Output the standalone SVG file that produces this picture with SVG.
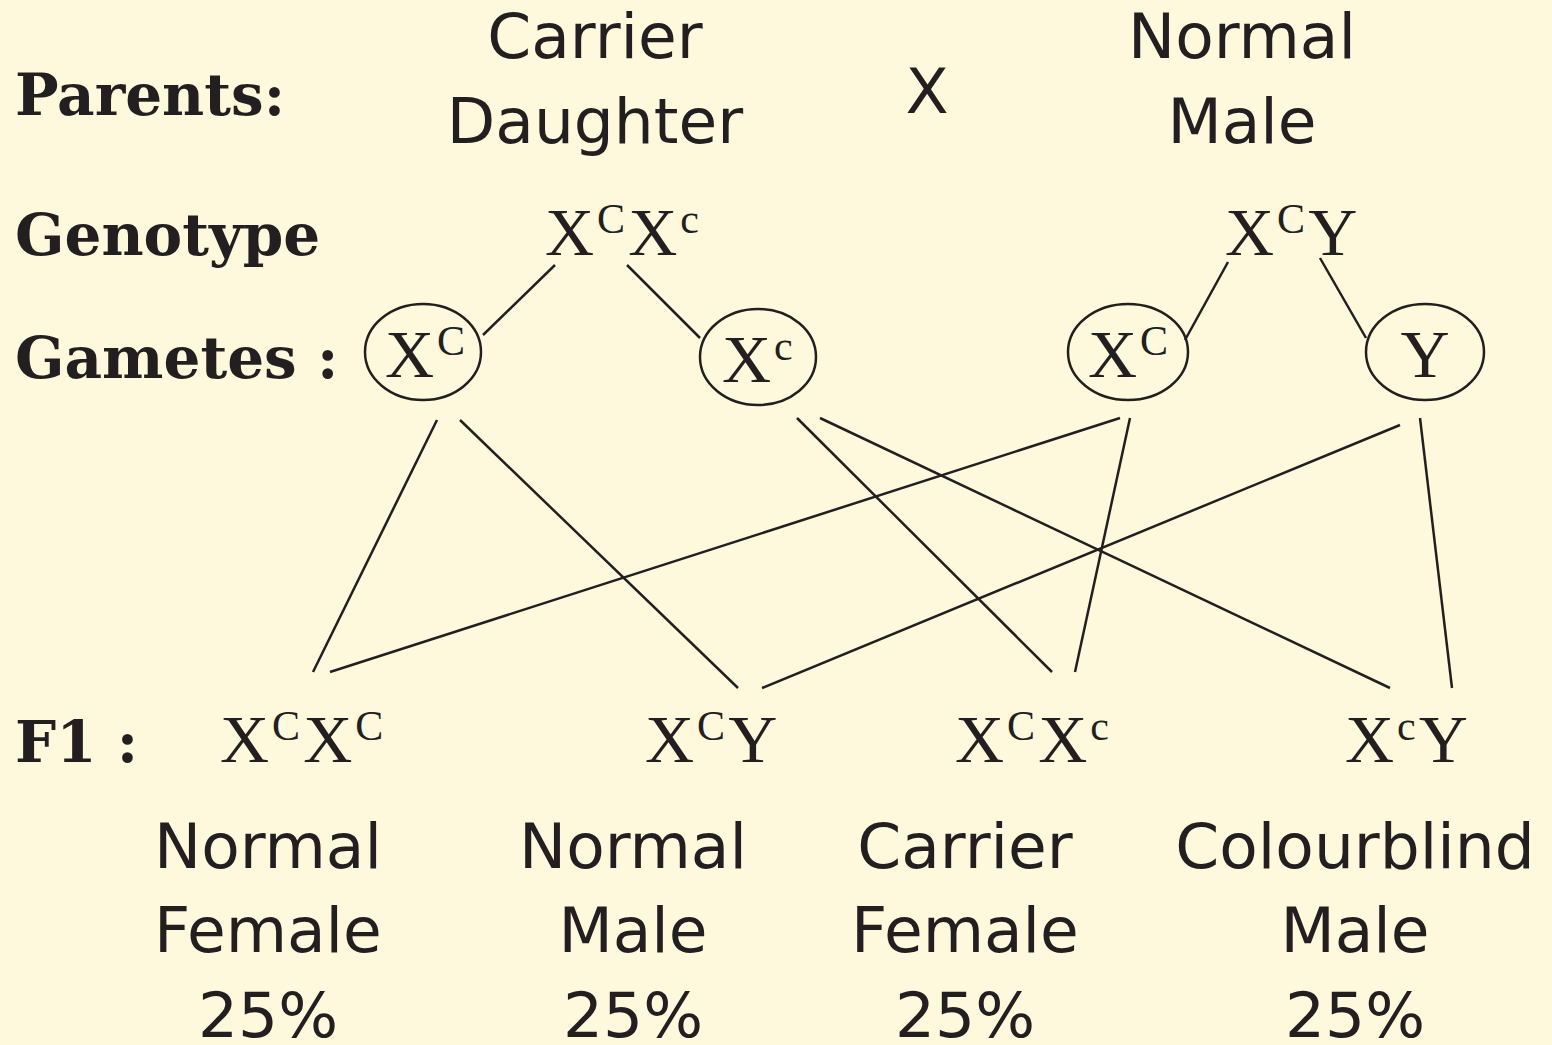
<svg xmlns="http://www.w3.org/2000/svg" width="1552" height="1045" viewBox="0 0 1552 1045">
<style>
.bg{fill:#fef9dc}
.hd{font-family:"DejaVu Serif","Liberation Serif",serif;font-weight:bold;font-size:58px;fill:#231f20}
.lb{font-family:"DejaVu Sans","Liberation Sans",sans-serif;font-size:63px;fill:#231f20;text-anchor:middle}
.gt{font-family:"Liberation Serif","Times New Roman",serif;font-size:68px;fill:#231f20;letter-spacing:3px}
.sp{font-size:42px}
.gam{fill:none;stroke:#231f20;stroke-width:2.5}
.ln{stroke:#231f20;stroke-width:2.5;fill:none}
</style>
<rect class="bg" x="0" y="0" width="1552" height="1045"/>
<g id="headers">
<text class="hd" x="15" y="115">Parents:</text>
<text class="hd" x="15" y="255">Genotype</text>
<text class="hd" x="15" y="378">Gametes :</text>
<text class="hd" x="15" y="762">F1 :</text>
</g>
<g id="parent-female">
<text class="lb" x="595" y="58">Carrier</text>
<text class="lb" x="595" y="143">Daughter</text>
</g>
<g id="cross"><text class="lb" x="927" y="113">X</text></g>
<g id="parent-male">
<text class="lb" x="1242" y="58">Normal</text>
<text class="lb" x="1242" y="143">Male</text>
</g>
<g id="genotype-female"><text class="gt" x="545" y="255">X<tspan class="sp" dy="-22">C</tspan><tspan dy="22">X</tspan><tspan class="sp" dy="-22">c</tspan></text></g>
<g id="genotype-male"><text class="gt" x="1225" y="255">X<tspan class="sp" dy="-22">C</tspan><tspan dy="22">Y</tspan></text></g>
<g id="gamete-1"><ellipse class="gam" cx="423" cy="352" rx="58" ry="48"/><text class="gt" x="385" y="377">X<tspan class="sp" dy="-22">C</tspan></text></g>
<g id="gamete-2"><ellipse class="gam" cx="758" cy="357" rx="58" ry="48"/><text class="gt" x="722" y="382">X<tspan class="sp" dy="-22">c</tspan></text></g>
<g id="gamete-3"><ellipse class="gam" cx="1128" cy="352" rx="60" ry="48"/><text class="gt" x="1088" y="377">X<tspan class="sp" dy="-22">C</tspan></text></g>
<g id="gamete-4"><ellipse class="gam" cx="1425" cy="352" rx="59" ry="48"/><text class="gt" x="1425" y="377" text-anchor="middle" style="letter-spacing:0">Y</text></g>
<g id="connectors">
<line class="ln" x1="555" y1="265" x2="483" y2="335"/>
<line class="ln" x1="627" y1="265" x2="700" y2="338"/>
<line class="ln" x1="1228" y1="262" x2="1185" y2="340"/>
<line class="ln" x1="1320" y1="258" x2="1366" y2="338"/>
<line class="ln" x1="437" y1="420" x2="313" y2="672"/>
<line class="ln" x1="460" y1="420" x2="738" y2="688"/>
<line class="ln" x1="797" y1="418" x2="1052" y2="672"/>
<line class="ln" x1="820" y1="418" x2="1390" y2="688"/>
<line class="ln" x1="1120" y1="418" x2="330" y2="672"/>
<line class="ln" x1="1130" y1="418" x2="1075" y2="672"/>
<line class="ln" x1="1400" y1="425" x2="762" y2="688"/>
<line class="ln" x1="1420" y1="418" x2="1452" y2="688"/>
</g>
<g id="f1-1">
<text class="gt" x="220" y="762">X<tspan class="sp" dy="-22">C</tspan><tspan dy="22">X</tspan><tspan class="sp" dy="-22">C</tspan></text>
<text class="lb" x="268" y="868">Normal</text>
<text class="lb" x="268" y="952">Female</text>
<text class="lb" x="268" y="1037">25%</text>
</g>
<g id="f1-2">
<text class="gt" x="645" y="762">X<tspan class="sp" dy="-22">C</tspan><tspan dy="22">Y</tspan></text>
<text class="lb" x="633" y="868">Normal</text>
<text class="lb" x="633" y="952">Male</text>
<text class="lb" x="633" y="1037">25%</text>
</g>
<g id="f1-3">
<text class="gt" x="955" y="762">X<tspan class="sp" dy="-22">C</tspan><tspan dy="22">X</tspan><tspan class="sp" dy="-22">c</tspan></text>
<text class="lb" x="965" y="868">Carrier</text>
<text class="lb" x="965" y="952">Female</text>
<text class="lb" x="965" y="1037">25%</text>
</g>
<g id="f1-4">
<text class="gt" x="1345" y="762">X<tspan class="sp" dy="-22">c</tspan><tspan dy="22">Y</tspan></text>
<text class="lb" x="1355" y="868">Colourblind</text>
<text class="lb" x="1355" y="952">Male</text>
<text class="lb" x="1355" y="1037">25%</text>
</g>
</svg>
